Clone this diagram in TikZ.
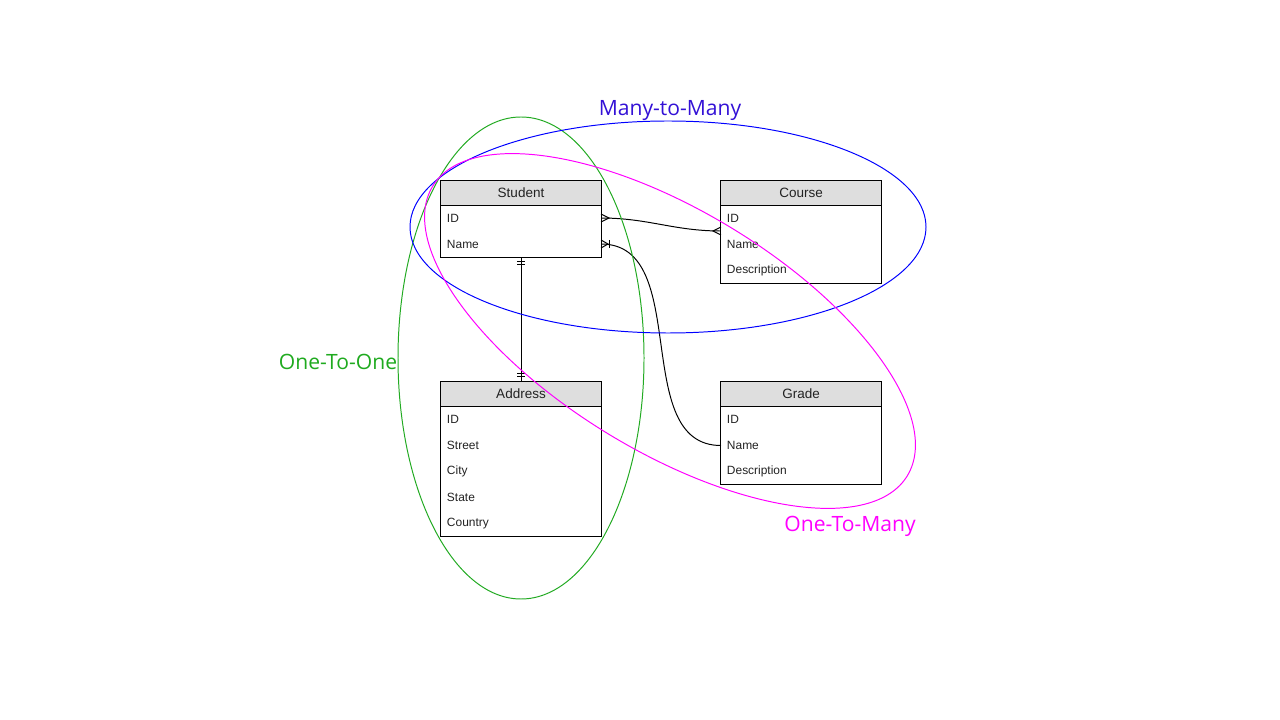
\documentclass[tikz,border=0pt]{standalone}
\usepackage{fontspec}
\setmainfont{Liberation Sans}
\newfontfamily\labelfont{Open Sans}
\usepackage{tikz}
\usetikzlibrary{positioning, calc}

\definecolor{headgray}{HTML}{DEDEDE}
\definecolor{textgray}{HTML}{222222}
\definecolor{mmblue}{HTML}{3311D6}
\definecolor{ringblue}{HTML}{0000FF}
\definecolor{oogreen}{HTML}{1FAA1F}
\definecolor{ringgreen}{HTML}{22AA22}
\definecolor{ompink}{HTML}{FF00FF}

\tikzset{
  head/.style={draw, fill=headgray, minimum width=4cm, minimum height=0.625cm,
    inner sep=0, outer sep=0, text=textgray, font=\fontsize{9.6}{11}\selectfont},
  row/.style={minimum height=0.65cm, text width=3.7cm, inner xsep=0.15cm,
    inner ysep=0, outer sep=0, align=left, text=textgray,
    font=\fontsize{8.5}{10}\selectfont},
  tag/.style={font=\labelfont\fontsize{15}{18}\selectfont}
}

\begin{document}
\begin{tikzpicture}[x=0.025cm, y=-0.025cm, line width=0.7pt]
      \useasboundingbox (0,0) rectangle (1280,720);
      \node[head] (student) at (521,192.5) {Student};
      \node[row, below=0 of student] (studentid) {ID};
      \node[row, below=0 of studentid] (studentname) {Name};
      \draw (student.south west) rectangle (studentname.south east);

      \node[head] (course) at (801,192.5) {Course};
      \node[row, below=0 of course] (courseid) {ID};
      \node[row, below=0 of courseid] (coursename) {Name};
      \node[row, below=0 of coursename] (coursedesc) {Description};
      \draw (course.south west) rectangle (coursedesc.south east);

      \node[head] (address) at (521,394) {Address};
      \node[row, below=0 of address] (addressid) {ID};
      \node[row, below=0 of addressid] (addressstreet) {Street};
      \node[row, below=0 of addressstreet] (addresscity) {City};
      \node[row, below=0 of addresscity] (addressstate) {State};
      \node[row, below=0 of addressstate] (addresscountry) {Country};
      \draw (address.south west) rectangle (addresscountry.south east);

      \node[head] (grade) at (801,394) {Grade};
      \node[row, below=0 of grade] (gradeid) {ID};
      \node[row, below=0 of gradeid] (gradename) {Name};
      \node[row, below=0 of gradename] (gradedesc) {Description};
      \draw (grade.south west) rectangle (gradedesc.south east);

      % relations
      \draw (studentid.east) to[out=0,in=180] (courseid.south west);
      \draw ($(studentid.east)+(0,-4)$) -- ++(8,4) -- ++(-8,4);
      \draw ($(courseid.south west)+(0,-4)$) -- ++(-8,4) -- ++(8,4);

      \draw (studentname.east) to[out=0,in=180] (gradename.west);
      \draw ($(studentname.east)+(0,-4)$) -- ++(7,4) -- ++(-7,4);
      \draw ($(studentname.east)+(8,-4)$) -- ++(0,8);

      \draw (studentname.south) -- (address.north);
      \draw ($(studentname.south)+(-4,4)$) -- ++(8,0);
      \draw ($(studentname.south)+(-4,7)$) -- ++(8,0);
      \draw ($(address.north)+(-4,-5)$) -- ++(8,0);
      \draw ($(address.north)+(-4,-8)$) -- ++(8,0);

      % groups
      \draw[ringgreen] (521,358) ellipse [x radius=123, y radius=241];
      \draw[ringblue] (668,227) ellipse [x radius=258, y radius=106];
      \draw[ompink, shift={(670,331)}, rotate=-31.4]
        (0,0) ellipse [x radius=278, y radius=120];

      \node[tag, text=mmblue] (manytomany) at (670,111) {Many-to-Many};
      \node[tag, text=oogreen] (onetoone) at (338,362) {One-To-One};
      \node[tag, text=ompink] (onetomany) at (850,526) {One-To-Many};
\end{tikzpicture}
\end{document}
